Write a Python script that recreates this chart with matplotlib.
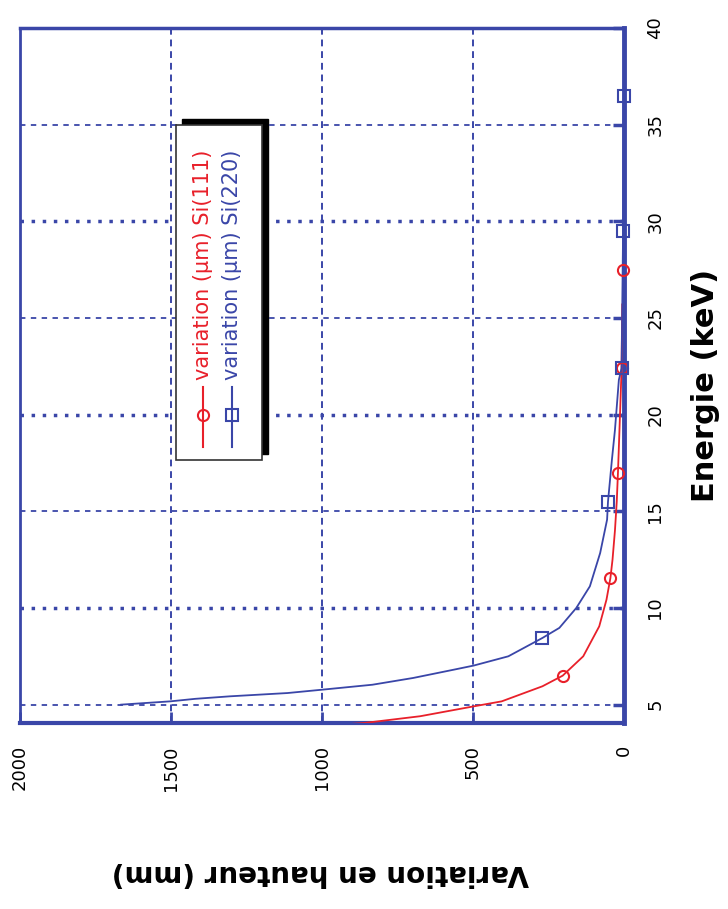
import matplotlib
matplotlib.use('Agg')
import matplotlib.pyplot as plt
from matplotlib.patches import Rectangle
from matplotlib.lines import Line2D

# ---- data ----
# Si(111): energy (keV) vs height variation
e111 = [4.0, 4.05, 4.4, 4.91, 5.17, 5.95, 6.5, 7.5, 9.05, 10.43, 11.55, 12.5, 14.0, 15.5, 17.0, 20.1, 22.4, 25.7]
v111 = [905, 861, 675, 498, 405, 270, 203, 135, 82, 58, 45, 38, 30, 24, 20, 13, 8, 6]
m111_e = [6.5, 11.55, 17.0, 22.4, 27.5]
m111_v = [203, 45, 20, 8, 4]

# Si(220)
e220 = [5.0, 5.17, 5.3, 5.43, 5.6, 5.78, 6.03, 6.38, 6.81, 7.02, 7.5, 8.45, 8.97, 10.0,
        11.12, 12.84, 14.57, 15.5, 17.67, 19.2, 21.8, 22.4, 29.5, 36.5]
v220 = [1665, 1502, 1420, 1305, 1114, 995, 833, 698, 563, 498, 383, 270, 214, 158,
        113, 79, 56, 53, 40, 30, 17, 8, 3, 1]
m220_e = [8.45, 15.5, 22.4, 29.5, 36.5]
m220_v = [270, 53, 8, 3, 1]

energy_ticks = [5, 10, 15, 20, 25, 30, 35, 40]
var_ticks = [0, 500, 1000, 1500, 2000]
labels = ['variation (µm) Si(111)', 'variation (µm) Si(220)']

RED = '#e8202a'
BLUE = '#3a46a8'

fig = plt.figure(figsize=(7.28, 9.09), dpi=100)
ax = fig.add_axes([20/728, 1 - 723/909, 604/728, 695/909])
ax.set_xlim(2000, 0)
ax.set_ylim(4.05, 40)

# grid
for v in var_ticks[1:-1]:
    ax.axvline(v, color=BLUE, lw=1.4, ls=(0, (3.5, 2.5)), zorder=1)
for e in energy_ticks[:-1]:
    if e % 10 == 0:
        ax.axhline(e, color=BLUE, lw=2.5, ls=(0, (1, 2.2)), zorder=1)
    else:
        ax.axhline(e, color=BLUE, lw=1.3, ls=(0, (3, 3)), zorder=1)

# curves
ax.plot(v111, e111, color=RED, lw=1.3, zorder=3)
ax.plot(v220, e220, color=BLUE, lw=1.3, zorder=3)
ax.plot(m111_v, m111_e, ls='none', marker='o', ms=8, mfc='none', mec=RED, mew=1.5, zorder=4, clip_on=False)
ax.plot(m220_v, m220_e, ls='none', marker='s', ms=8, mfc='none', mec=BLUE, mew=1.5, zorder=4, clip_on=False)

# spines
for s, w in (('right', 3.5), ('bottom', 3), ('top', 2.5), ('left', 2)):
    ax.spines[s].set_color(BLUE)
    ax.spines[s].set_linewidth(w)

ax.set_xticks(var_ticks)
ax.set_xticklabels([str(v) for v in var_ticks], rotation=90, fontsize=13)
ax.yaxis.tick_right()
ax.set_yticks(energy_ticks)
ax.set_yticklabels([str(e) for e in energy_ticks], rotation=90, fontsize=13, va='center')
ax.tick_params(axis='x', direction='in', length=8, width=2, color=BLUE, pad=16)
ax.tick_params(axis='y', direction='in', length=8, width=2.5, color=BLUE, pad=16)
for t in ax.get_xticklabels():
    t.set_va('top')

fig.text(705/728, 1 - 385/909, 'Energie (keV)', rotation=90, fontsize=22,
         fontweight='bold', ha='center', va='center')
fig.text(320/728, 1 - 873/909, 'Variation en hauteur (mm)', rotation=180, fontsize=20,
         fontweight='bold', ha='center', va='center')

# legend (drawn by hand, rotated)
def axf(px, py):
    return ((px - 20) / 604, (723 - py) / 695)

x0, y0 = axf(176, 460)
x1, y1 = axf(262, 125)
sx, sy = 6 / 604, 6 / 695
ax.add_patch(Rectangle((x0 + sx, y0 + sy), x1 - x0, y1 - y0, transform=ax.transAxes,
                       facecolor='black', edgecolor='black', zorder=5))
ax.add_patch(Rectangle((x0, y0), x1 - x0, y1 - y0, transform=ax.transAxes,
                       facecolor='white', edgecolor='#333333', lw=1.2, zorder=6))
for px, col, mk, lab in ((203, RED, 'o', labels[0]), (232, BLUE, 's', labels[1])):
    lx, ly0 = axf(px, 447)
    _, ly1 = axf(px, 387)
    _, lym = axf(px, 415)
    ax.add_line(Line2D([lx, lx], [ly0, ly1], transform=ax.transAxes, color=col, lw=1.5, zorder=7))
    ax.add_line(Line2D([lx], [lym], transform=ax.transAxes, marker=mk, ms=8, mfc='none',
                       mec=col, mew=1.5, zorder=7))
    tx, ty = axf(px, 380)
    ax.text(tx, ty, lab, transform=ax.transAxes, rotation=90, color=col, fontsize=15,
            ha='center', va='bottom', zorder=7)

fig.savefig('out.png', dpi=100)
